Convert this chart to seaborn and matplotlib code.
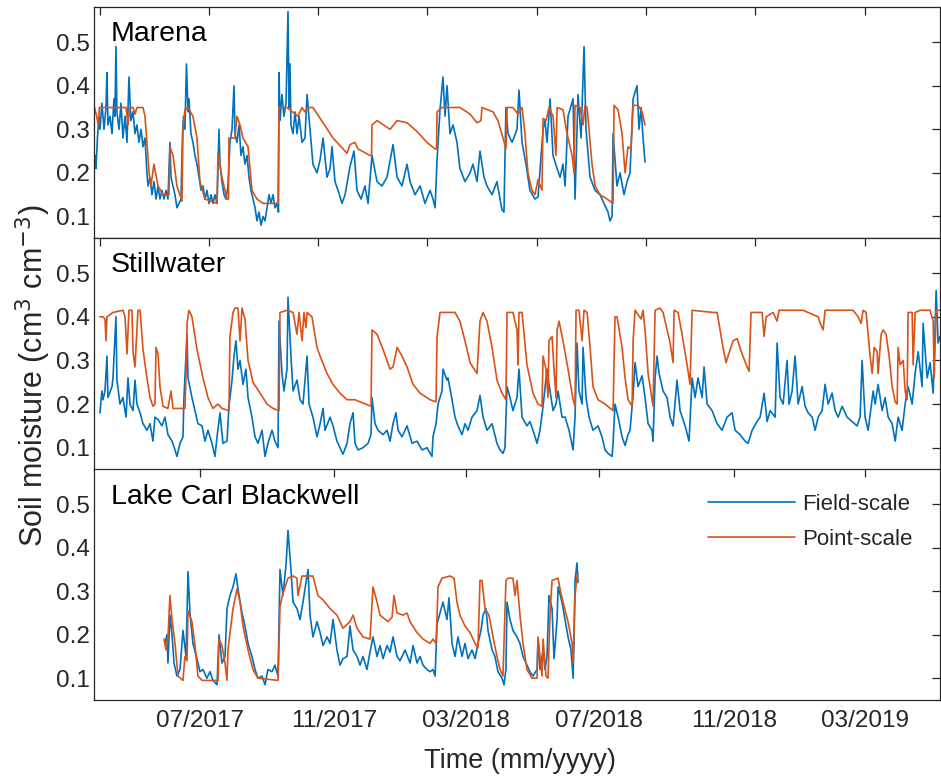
import matplotlib
matplotlib.use("Agg")
import matplotlib.pyplot as plt
import matplotlib.dates as mdates
from matplotlib.lines import Line2D
import pandas as pd
import seaborn as sns

START = pd.Timestamp("2017-03-27")
END_DAY = 772.0

# ---- Marena --------------------------------------------------------------
marena_field_day = [
    0.5, 1.4, 2.7, 4.1, 5.0, 6.8, 8.7, 10.5, 11.4, 12.3, 14.2, 16.0, 17.8, 18.7, 19.6, 20.5,
    22.4, 24.2, 26.0, 27.9, 29.7, 31.5, 33.3, 35.2, 37.0, 38.8, 40.6, 42.5, 44.3, 46.1, 47.9,
    48.9, 50.7, 52.5, 54.3, 56.2, 58.0, 59.8, 61.6, 63.5, 65.3, 67.1, 68.9, 69.9, 71.7, 73.5,
    75.3, 77.2, 79.0, 80.4, 81.3, 82.6, 84.0, 85.4, 86.3, 88.1, 89.9, 91.8, 93.6, 95.4, 97.3,
    99.1, 100.9, 102.7, 104.6, 106.4, 108.2, 110.0, 111.9, 113.7, 114.6, 116.4, 118.3, 120.1,
    121.9, 123.7, 125.6, 127.4, 128.3, 130.1, 132.0, 133.8, 135.6, 137.4, 139.3, 141.1, 142.9,
    144.7, 146.6, 148.4, 150.2, 152.1, 153.9, 155.7, 157.5, 159.4, 161.2, 163.0, 164.8, 166.7,
    168.0, 168.5, 169.4, 171.2, 173.0, 174.9, 176.7, 177.6, 178.5, 179.4, 181.3, 183.1, 184.9,
    186.8, 189.5, 192.2, 194.1, 196.8, 199.5, 203.2, 206.0, 208.7, 212.3, 215.1, 216.9, 219.6,
    222.4, 226.0, 228.8, 233.3, 237.0, 239.7, 243.4, 247.0, 249.8, 253.4, 258.0, 262.5, 267.1,
    272.6, 276.3, 280.8, 285.4, 288.1, 292.7, 297.3, 301.8, 306.4, 309.1, 311.0, 312.8, 315.5,
    318.2, 320.1, 321.9, 324.6, 327.4, 331.0, 333.7, 338.3, 342.9, 345.6, 349.3, 352.0, 355.7,
    358.4, 363.0, 367.5, 370.3, 372.1, 373.9, 375.7, 377.6, 381.3, 385.8, 387.6, 390.4, 394.0,
    397.6, 402.2, 405.0, 409.6, 411.4, 413.2, 416.0, 418.7, 422.4, 425.1, 427.8, 429.7, 432.4,
    437.0, 438.8, 441.5, 444.3, 447.0, 448.8, 452.5, 457.1, 461.6, 465.3, 468.9, 470.7, 472.6,
    473.5, 477.1, 479.9, 483.5, 486.3, 489.0, 491.8, 495.4, 497.2, 499.1, 500.9, 502.7,
]
marena_field_sm = [
    0.24, 0.21, 0.28, 0.33, 0.30, 0.36, 0.30, 0.35, 0.43, 0.31, 0.33, 0.29, 0.37, 0.33, 0.49, 0.34,
    0.30, 0.36, 0.28, 0.33, 0.27, 0.42, 0.32, 0.34, 0.29, 0.31, 0.27, 0.30, 0.26, 0.28, 0.20,
    0.17, 0.19, 0.15, 0.18, 0.14, 0.17, 0.14, 0.16, 0.14, 0.16, 0.14, 0.27, 0.19, 0.17, 0.15,
    0.12, 0.13, 0.14, 0.29, 0.33, 0.30, 0.45, 0.34, 0.37, 0.29, 0.27, 0.24, 0.22, 0.19, 0.16,
    0.17, 0.14, 0.16, 0.13, 0.15, 0.13, 0.15, 0.13, 0.30, 0.22, 0.18, 0.15, 0.14,
    0.17, 0.27, 0.30, 0.40, 0.29, 0.27, 0.31, 0.24, 0.26, 0.22, 0.24, 0.19, 0.16,
    0.14, 0.12, 0.09, 0.11, 0.08, 0.10, 0.09, 0.12, 0.15, 0.13, 0.15, 0.12, 0.13,
    0.11, 0.43, 0.32, 0.38, 0.33, 0.36, 0.57, 0.35, 0.45, 0.31, 0.29, 0.34, 0.29,
    0.33, 0.27, 0.28, 0.38, 0.30, 0.22, 0.20, 0.23, 0.28, 0.19, 0.21, 0.26, 0.18,
    0.16, 0.13, 0.15, 0.215, 0.25, 0.16, 0.14, 0.17, 0.13, 0.24, 0.18, 0.17, 0.19,
    0.265, 0.19, 0.17, 0.22, 0.18, 0.15, 0.17, 0.13, 0.16, 0.14, 0.12, 0.23, 0.345,
    0.42, 0.33, 0.40, 0.29, 0.31, 0.27, 0.21, 0.18, 0.20, 0.22, 0.18, 0.25, 0.19,
    0.17, 0.15, 0.18, 0.14, 0.115, 0.11, 0.35, 0.29, 0.27, 0.30, 0.39, 0.27, 0.22,
    0.16, 0.14, 0.145, 0.30, 0.32, 0.27, 0.37, 0.24, 0.21, 0.19, 0.22, 0.17, 0.33,
    0.37, 0.14, 0.38, 0.28, 0.49, 0.30, 0.19, 0.16, 0.15, 0.13, 0.11, 0.09, 0.10,
    0.29, 0.17, 0.20, 0.15, 0.18, 0.20, 0.37, 0.40, 0.30, 0.35, 0.28, 0.225,
]
marena_point_day = [
    0.0, 2.0, 3.5, 4.4, 26.0, 28.8, 30.6, 32.4, 35.2, 37.0, 38.8, 44.3, 46.1, 47.9, 49.8, 51.6,
    54.3, 58.0, 62.6, 68.0, 68.9, 71.7, 75.3, 79.9, 80.8, 82.6, 85.4, 89.9, 93.6, 96.3, 100.9,
    111.9, 112.8, 116.4, 121.0, 122.4, 122.8, 128.3, 130.1, 132.9, 135.6, 140.2, 143.8, 148.4,
    153.9, 167.6, 168.5, 175.8, 185.8, 189.5, 192.2, 195.0, 199.5, 208.7, 217.8, 230.6, 233.3,
    237.9, 240.6, 251.6, 253.0, 253.4, 258.0, 269.9, 276.3, 285.4, 294.5, 303.6, 311.0, 312.3,
    312.8, 317.3, 333.7, 342.9, 349.3, 352.9, 353.8, 363.9, 368.4, 373.0, 375.7, 376.7, 382.1,
    386.7, 390.4, 393.1, 395.8, 399.5, 402.2, 405.0, 408.6, 409.6, 412.3, 415.0, 418.7, 421.4,
    422.4, 427.8, 431.5, 436.1, 437.9, 438.8, 443.4, 446.1, 447.9, 449.8, 454.3, 457.1, 461.6,
    468.0, 473.5, 474.4, 478.1, 481.7, 484.5, 487.2, 489.9, 491.8, 496.3, 500.0, 502.7,
]
marena_point_sm = [
    0.35, 0.33, 0.31, 0.35, 0.35, 0.35, 0.31, 0.35, 0.35, 0.335, 0.35, 0.35, 0.33, 0.27, 0.20, 0.17,
    0.22, 0.17, 0.15, 0.15, 0.26, 0.24, 0.17, 0.135, 0.30, 0.345, 0.35, 0.33, 0.28, 0.18, 0.14,
    0.13, 0.245, 0.19, 0.14, 0.14, 0.28, 0.28, 0.33, 0.31, 0.28, 0.26, 0.16, 0.14,
    0.13, 0.13, 0.35, 0.35, 0.33, 0.35, 0.34, 0.35, 0.35, 0.315, 0.28, 0.245, 0.265,
    0.27, 0.255, 0.24, 0.24, 0.31, 0.32, 0.30, 0.32, 0.315, 0.295, 0.27, 0.255, 0.255,
    0.34, 0.35, 0.35, 0.335, 0.315, 0.32, 0.35, 0.34, 0.32, 0.28, 0.255, 0.35, 0.35,
    0.335, 0.35, 0.29, 0.20, 0.16, 0.15, 0.185, 0.16, 0.325, 0.32, 0.35, 0.33, 0.24,
    0.35, 0.345, 0.29, 0.24, 0.20, 0.355, 0.35, 0.31, 0.355, 0.35, 0.22, 0.17, 0.15,
    0.14, 0.13, 0.355, 0.345, 0.29, 0.20, 0.26, 0.255, 0.355, 0.355, 0.34, 0.31,
]

# ---- Stillwater ----------------------------------------------------------
stillwater_field_day = [
    5.0, 6.8, 7.8, 9.6, 11.4, 12.3, 16.0, 16.9, 19.6, 20.5, 23.3, 26.0, 28.8, 30.6, 32.4, 35.2,
    37.0, 38.8, 41.6, 44.3, 47.9, 50.7, 53.4, 55.2, 58.0, 61.6, 64.4, 67.1, 70.8, 73.5, 75.3,
    78.1, 80.8, 81.7, 84.5, 85.4, 89.0, 91.8, 94.5, 98.2, 100.9, 103.6, 107.3, 110.0, 111.9,
    114.6, 117.3, 121.0, 122.8, 125.6, 127.4, 129.2, 131.0, 132.9, 135.6, 138.3, 140.2, 143.8,
    146.6, 149.3, 153.0, 155.7, 158.4, 162.1, 164.8, 167.6, 168.5, 171.2, 173.0, 175.8, 176.7,
    179.4, 181.3, 184.9, 187.7, 190.4, 194.1, 195.9, 199.5, 203.2, 206.0, 208.7, 210.5, 215.1,
    217.8, 221.4, 224.2, 226.9, 230.6, 233.3, 236.1, 237.9, 240.6, 245.2, 249.8, 252.5, 253.4,
    256.2, 258.9, 263.5, 267.1, 269.9, 272.6, 275.3, 277.2, 280.8, 285.4, 290.0, 294.5, 299.1,
    303.6, 308.2, 309.1, 311.9, 313.7, 317.3, 318.2, 321.9, 322.8, 326.5, 329.2, 331.9, 335.6,
    338.3, 341.1, 344.7, 349.3, 352.0, 354.8, 358.4, 363.0, 367.5, 370.3, 373.0, 374.8, 376.7,
    379.4, 382.1, 385.8, 387.6, 390.4, 394.9, 397.6, 400.4, 404.1, 406.8, 409.6, 413.2, 415.0,
    418.7, 421.4, 423.3, 426.9, 429.7, 433.3, 437.0, 438.8, 440.6, 442.4, 445.2, 446.1, 448.8,
    451.6, 455.2, 459.8, 463.4, 466.2, 468.9, 472.6, 473.5, 475.3, 478.1, 481.7, 484.5, 487.2,
    489.0, 491.8, 493.6, 496.3, 500.0, 502.7, 505.5, 509.1, 510.0, 511.9, 513.7, 515.5, 519.2,
    522.8, 525.6, 528.3, 531.9, 534.7, 539.3, 542.9, 545.7, 548.4, 551.1, 554.8, 556.6, 559.4,
    563.9, 568.5, 573.0, 577.6, 582.2, 584.9, 589.5, 594.1, 596.8, 600.5, 605.0, 607.8, 611.4,
    614.2, 616.9, 621.5, 623.3, 626.0, 628.8, 632.4, 634.2, 637.0, 639.7, 642.5, 646.1, 648.9,
    651.6, 655.3, 658.0, 660.8, 664.4, 667.1, 669.9, 673.5, 676.3, 679.0, 682.7, 687.2, 691.8,
    696.3, 699.1, 700.9, 703.6, 706.4, 711.0, 712.8, 715.5, 719.2, 721.9, 724.7, 728.3, 731.1,
    733.8, 737.4, 740.2, 742.9, 746.6, 749.3, 752.1, 755.7, 756.6, 760.3, 763.0, 765.8, 768.5,
    770.3, 772.0,
]
stillwater_field_sm = [
    0.18, 0.23, 0.21, 0.23, 0.31, 0.215, 0.24, 0.26, 0.40, 0.255, 0.20, 0.215, 0.17, 0.26, 0.20, 0.185,
    0.255, 0.20, 0.18, 0.155, 0.14, 0.155, 0.115, 0.17, 0.165, 0.15, 0.17, 0.13, 0.115, 0.095, 0.08,
    0.11, 0.125, 0.215, 0.36, 0.26, 0.215, 0.185, 0.155, 0.15, 0.115, 0.14, 0.11, 0.08, 0.125,
    0.18, 0.11, 0.115, 0.195, 0.255, 0.31, 0.345, 0.28, 0.30, 0.245, 0.28, 0.215, 0.17,
    0.125, 0.11, 0.14, 0.08, 0.11, 0.14, 0.115, 0.10, 0.39, 0.27, 0.23, 0.28, 0.445,
    0.31, 0.23, 0.255, 0.21, 0.20, 0.31, 0.20, 0.17, 0.125, 0.155, 0.19, 0.14, 0.17,
    0.15, 0.115, 0.10, 0.085, 0.11, 0.155, 0.18, 0.11, 0.095, 0.10, 0.11, 0.13, 0.215,
    0.155, 0.14, 0.13, 0.14, 0.115, 0.155, 0.18, 0.14, 0.125, 0.15, 0.11, 0.115, 0.095,
    0.10, 0.08, 0.125, 0.155, 0.20, 0.23, 0.28, 0.255, 0.26, 0.21, 0.17, 0.15, 0.13,
    0.155, 0.14, 0.17, 0.185, 0.22, 0.17, 0.14, 0.155, 0.11, 0.095, 0.087, 0.10, 0.24,
    0.215, 0.185, 0.215, 0.28, 0.17, 0.15, 0.16, 0.14, 0.11, 0.14, 0.195, 0.28, 0.245,
    0.185, 0.20, 0.23, 0.17, 0.17, 0.14, 0.095, 0.17, 0.34, 0.23, 0.20, 0.33, 0.215,
    0.17, 0.14, 0.15, 0.125, 0.095, 0.087, 0.08, 0.11, 0.20, 0.17, 0.125, 0.105, 0.13,
    0.14, 0.22, 0.295, 0.24, 0.265, 0.215, 0.155, 0.14, 0.115, 0.26, 0.31, 0.27, 0.23,
    0.215, 0.17, 0.15, 0.255, 0.185, 0.15, 0.115, 0.26, 0.215, 0.26, 0.215, 0.285, 0.20,
    0.185, 0.155, 0.14, 0.17, 0.18, 0.14, 0.13, 0.115, 0.11, 0.14, 0.16, 0.17, 0.225,
    0.16, 0.185, 0.17, 0.34, 0.215, 0.20, 0.30, 0.20, 0.23, 0.31, 0.20, 0.24, 0.195,
    0.18, 0.17, 0.14, 0.17, 0.185, 0.245, 0.20, 0.225, 0.185, 0.17, 0.195, 0.17, 0.16,
    0.15, 0.17, 0.30, 0.17, 0.14, 0.23, 0.20, 0.245, 0.185, 0.215, 0.17, 0.155, 0.115,
    0.17, 0.14, 0.20, 0.24, 0.20, 0.27, 0.32, 0.24, 0.385, 0.26, 0.295, 0.225, 0.46,
    0.34, 0.355,
]
stillwater_point_day = [
    5.0, 7.8, 9.6, 10.5, 11.4, 16.9, 26.0, 27.9, 29.7, 31.5, 34.2, 35.2, 37.0, 38.8, 39.7, 41.6,
    44.3, 47.9, 50.7, 53.4, 55.2, 56.2, 58.0, 59.8, 62.6, 67.1, 69.9, 71.7, 82.6, 84.0, 84.5,
    86.3, 89.0, 93.6, 99.1, 103.6, 108.2, 112.8, 116.4, 122.8, 123.7, 126.5, 128.3, 131.0,
    132.9, 134.7, 137.4, 140.2, 144.7, 151.2, 157.5, 163.0, 168.5, 169.4, 175.8, 181.3, 184.9,
    186.8, 189.5, 191.3, 193.1, 194.1, 198.6, 203.2, 206.0, 212.3, 217.8, 224.2, 230.6, 237.9,
    242.5, 252.5, 253.4, 258.0, 263.5, 269.9, 272.6, 276.3, 280.8, 285.4, 290.9, 297.3, 306.4,
    311.9, 312.8, 315.5, 329.2, 333.7, 338.3, 342.9, 349.3, 352.0, 354.8, 358.4, 363.0, 367.5,
    372.1, 375.7, 376.7, 382.1, 385.8, 386.7, 387.6, 390.4, 394.9, 400.4, 405.0, 408.6, 409.6,
    412.3, 414.1, 415.0, 417.8, 419.6, 421.4, 422.4, 424.2, 427.8, 432.4, 437.0, 438.8, 439.7,
    442.4, 445.2, 447.0, 449.8, 452.5, 455.2, 459.8, 466.2, 473.5, 475.3, 477.1, 481.7, 484.5,
    487.2, 490.9, 491.8, 493.6, 499.1, 500.9, 502.7, 505.5, 510.0, 511.9, 516.4, 519.2, 522.8,
    525.6, 528.3, 529.2, 532.9, 536.5, 541.1, 543.8, 545.7, 564.8, 568.5, 571.2, 573.9, 576.7,
    578.5, 583.1, 586.8, 591.3, 595.9, 597.7, 599.5, 609.6, 611.4, 613.3, 619.6, 623.3, 625.1,
    647.0, 660.8, 662.6, 665.3, 667.1, 692.7, 697.3, 700.0, 701.8, 704.6, 706.4, 708.2, 710.1,
    711.9, 714.6, 715.5, 718.3, 720.1, 722.8, 725.6, 728.3, 731.1, 732.9, 733.8, 735.6, 738.4,
    740.2, 742.0, 742.9, 746.6, 747.5, 749.3, 753.9, 763.0, 765.8, 766.7, 768.5, 772.0,
]
stillwater_point_sm = [
    0.40, 0.40, 0.395, 0.345, 0.40, 0.41, 0.415, 0.40, 0.315, 0.415, 0.415, 0.32, 0.285, 0.37, 0.415, 0.415,
    0.325, 0.26, 0.215, 0.195, 0.20, 0.33, 0.315, 0.24, 0.195, 0.19, 0.23, 0.19, 0.19, 0.30, 0.385,
    0.415, 0.40, 0.325, 0.26, 0.215, 0.19, 0.20, 0.19, 0.185, 0.355, 0.41, 0.42, 0.42,
    0.345, 0.42, 0.395, 0.30, 0.25, 0.225, 0.20, 0.19, 0.185, 0.41, 0.415, 0.41, 0.36,
    0.41, 0.345, 0.41, 0.375, 0.41, 0.40, 0.33, 0.31, 0.27, 0.245, 0.225, 0.21, 0.21,
    0.205, 0.195, 0.37, 0.36, 0.325, 0.28, 0.285, 0.33, 0.31, 0.285, 0.245, 0.225, 0.21,
    0.205, 0.355, 0.41, 0.41, 0.39, 0.345, 0.295, 0.27, 0.39, 0.41, 0.39, 0.33, 0.255,
    0.225, 0.21, 0.41, 0.41, 0.37, 0.29, 0.41, 0.41, 0.29, 0.225, 0.20, 0.195, 0.31,
    0.28, 0.215, 0.345, 0.355, 0.28, 0.215, 0.37, 0.39, 0.345, 0.28, 0.21, 0.195, 0.415,
    0.415, 0.345, 0.415, 0.41, 0.33, 0.24, 0.21, 0.20, 0.185, 0.40, 0.40, 0.33, 0.26,
    0.21, 0.195, 0.345, 0.415, 0.395, 0.415, 0.37, 0.27, 0.195, 0.415, 0.42, 0.41, 0.37,
    0.34, 0.295, 0.415, 0.41, 0.36, 0.29, 0.245, 0.415, 0.41, 0.41, 0.37, 0.33, 0.295,
    0.31, 0.345, 0.35, 0.315, 0.285, 0.275, 0.41, 0.41, 0.355, 0.40, 0.41, 0.39, 0.415,
    0.415, 0.40, 0.385, 0.37, 0.415, 0.415, 0.40, 0.385, 0.415, 0.41, 0.36, 0.31, 0.27,
    0.33, 0.32, 0.27, 0.36, 0.37, 0.36, 0.31, 0.24, 0.205, 0.20, 0.33, 0.29, 0.30,
    0.23, 0.21, 0.41, 0.41, 0.29, 0.41, 0.415, 0.415, 0.39, 0.26, 0.415, 0.415,
]

# ---- Lake Carl Blackwell -------------------------------------------------
lcb_field_day = [
    64.4, 66.2, 67.1, 68.9, 70.8, 72.6, 75.3, 78.1, 80.8, 83.6, 85.4, 87.2, 89.9, 93.6, 96.3,
    99.1, 102.7, 105.5, 108.2, 111.9, 113.7, 116.4, 119.2, 121.0, 123.7, 126.5, 129.2, 131.0,
    134.7, 137.4, 140.2, 143.8, 146.6, 149.3, 153.0, 155.7, 158.4, 162.1, 164.8, 167.6, 169.4,
    172.1, 174.9, 176.7, 179.4, 181.3, 184.9, 187.7, 190.4, 195.0, 196.8, 199.5, 203.2, 206.0,
    208.7, 212.3, 215.1, 217.8, 221.4, 224.2, 226.9, 230.6, 233.3, 236.1, 239.7, 242.5, 245.2,
    248.8, 251.6, 254.3, 258.0, 260.7, 263.5, 267.1, 269.9, 272.6, 276.3, 279.0, 283.6, 288.1,
    290.9, 294.5, 297.3, 300.0, 303.6, 306.4, 309.1, 311.0, 312.8, 315.5, 318.2, 321.9, 323.7,
    326.5, 329.2, 331.9, 335.6, 338.3, 341.1, 344.7, 347.5, 350.2, 352.9, 354.8, 357.5, 359.3,
    363.0, 365.7, 368.4, 372.1, 373.9, 375.7, 376.7, 379.4, 382.1, 385.8, 388.5, 391.3, 394.9,
    397.6, 400.4, 404.1, 405.0, 406.8, 409.6, 411.4, 413.2, 415.0, 417.8, 419.6, 422.4, 423.3,
    426.9, 429.7, 432.4, 435.1, 437.0, 437.9, 438.8, 440.6, 441.5,
]
lcb_field_sm = [
    0.18, 0.20, 0.135, 0.245, 0.20, 0.135, 0.105, 0.12, 0.21, 0.15, 0.345, 0.25, 0.18, 0.145, 0.115,
    0.12, 0.10, 0.115, 0.095, 0.085, 0.20, 0.135, 0.15, 0.26, 0.29, 0.31, 0.34, 0.305,
    0.25, 0.22, 0.18, 0.15, 0.12, 0.10, 0.105, 0.085, 0.12, 0.115, 0.13, 0.105, 0.35,
    0.29, 0.36, 0.44, 0.35, 0.275, 0.26, 0.235, 0.275, 0.35, 0.245, 0.195, 0.23, 0.205,
    0.175, 0.195, 0.18, 0.235, 0.165, 0.13, 0.145, 0.15, 0.22, 0.165, 0.15, 0.13, 0.15,
    0.12, 0.16, 0.195, 0.15, 0.175, 0.145, 0.175, 0.16, 0.195, 0.15, 0.14, 0.165, 0.135,
    0.175, 0.135, 0.15, 0.13, 0.12, 0.115, 0.12, 0.105, 0.225, 0.25, 0.275, 0.235, 0.285,
    0.18, 0.15, 0.195, 0.15, 0.18, 0.145, 0.165, 0.145, 0.18, 0.21, 0.245, 0.26, 0.21,
    0.165, 0.15, 0.115, 0.10, 0.085, 0.12, 0.275, 0.235, 0.21, 0.195, 0.18, 0.15, 0.13,
    0.115, 0.105, 0.12, 0.19, 0.12, 0.165, 0.12, 0.15, 0.29, 0.26, 0.145, 0.235, 0.31,
    0.275, 0.235, 0.195, 0.165, 0.10, 0.195, 0.325, 0.365, 0.32,
]
lcb_point_day = [
    63.5, 65.3, 67.1, 68.9, 70.8, 73.5, 76.3, 80.8, 82.6, 84.5, 85.4, 89.0, 91.8, 94.5, 98.2,
    112.8, 113.7, 116.4, 119.2, 121.0, 121.9, 126.5, 130.1, 132.9, 135.6, 140.2, 144.7, 149.3,
    167.6, 169.4, 172.1, 176.7, 181.3, 184.9, 185.8, 189.5, 199.5, 204.1, 208.7, 215.1, 221.4,
    226.9, 233.3, 236.1, 239.7, 245.2, 251.6, 254.3, 258.0, 260.7, 268.0, 271.7, 273.5, 276.3,
    281.7, 285.4, 288.1, 294.5, 300.0, 306.4, 309.1, 311.9, 313.7, 317.3, 324.6, 328.3, 331.0,
    333.7, 338.3, 342.9, 347.5, 350.2, 352.0, 353.8, 356.6, 360.2, 363.9, 367.5, 370.3, 373.0,
    375.7, 377.6, 382.1, 384.0, 385.8, 388.5, 391.3, 394.9, 399.5, 404.1, 405.0, 406.8, 408.6,
    409.6, 412.3, 414.1, 416.0, 417.8, 423.3, 425.1, 427.8, 432.4, 436.1, 437.0, 438.8, 440.6,
    441.5,
]
lcb_point_sm = [
    0.19, 0.165, 0.195, 0.29, 0.235, 0.18, 0.105, 0.095, 0.15, 0.14, 0.255, 0.23, 0.175, 0.105, 0.095,
    0.095, 0.19, 0.175, 0.135, 0.095, 0.165, 0.26, 0.305, 0.275, 0.22, 0.165, 0.12, 0.10,
    0.095, 0.265, 0.295, 0.33, 0.335, 0.33, 0.29, 0.335, 0.335, 0.29, 0.28, 0.26, 0.245,
    0.215, 0.23, 0.245, 0.215, 0.195, 0.19, 0.31, 0.275, 0.245, 0.23, 0.24, 0.29, 0.25,
    0.245, 0.25, 0.23, 0.205, 0.19, 0.18, 0.19, 0.18, 0.31, 0.33, 0.335, 0.33, 0.275,
    0.245, 0.22, 0.205, 0.18, 0.17, 0.325, 0.325, 0.26, 0.245, 0.195, 0.15, 0.12, 0.105,
    0.325, 0.33, 0.33, 0.29, 0.325, 0.245, 0.18, 0.12, 0.10, 0.10, 0.195, 0.15, 0.105,
    0.19, 0.105, 0.10, 0.25, 0.325, 0.33, 0.305, 0.275, 0.23, 0.18, 0.135, 0.29, 0.335,
    0.34,
]

site_names = ["Marena", "Stillwater", "Lake Carl Blackwell"]
scale_names = ["Field-scale", "Point-scale"]
scale_colors = {"Field-scale": "#0072BD", "Point-scale": "#D95319"}
month_ticks = ["2017-07-01", "2017-11-01", "2018-03-01", "2018-07-01", "2018-11-01", "2019-03-01"]
y_ticks = [0.1, 0.2, 0.3, 0.4, 0.5]


def site_frame(f_day, f_sm, p_day, p_sm):
    parts = []
    for name, d, v in ((scale_names[0], f_day, f_sm), (scale_names[1], p_day, p_sm)):
        parts.append(pd.DataFrame({
            "date": START + pd.to_timedelta(d, unit="D"),
            "sm": v,
            "scale": name,
        }))
    return pd.concat(parts, ignore_index=True)


frames = [
    site_frame(marena_field_day, marena_field_sm, marena_point_day, marena_point_sm),
    site_frame(stillwater_field_day, stillwater_field_sm, stillwater_point_day, stillwater_point_sm),
    site_frame(lcb_field_day, lcb_field_sm, lcb_point_day, lcb_point_sm),
]

sns.set_style("white")
plt.rcParams["font.family"] = ["Liberation Sans", "DejaVu Sans"]
plt.rcParams["axes.edgecolor"] = "#262626"

fig = plt.figure(figsize=(9.41, 7.82), dpi=100)
left, width = 0.1004, 0.8985
boxes = [(0.6953, 0.2954), (0.3996, 0.2957), (0.1049, 0.2948)]
axes = [fig.add_axes([left, b, width, h]) for b, h in boxes]

x0 = START
x1 = START + pd.Timedelta(days=END_DAY)
grid_ticks = [START + pd.Timedelta(days=4.6 + 99.8 * k) for k in range(8)]

for i, (ax, df, site) in enumerate(zip(axes, frames, site_names)):
    sns.lineplot(data=df, x="date", y="sm", hue="scale", hue_order=scale_names,
                 palette=scale_colors, estimator=None, sort=False, linewidth=1.2,
                 legend=False, ax=ax)
    ax.set_xlim(x0, x1)
    ax.set_ylim(0.05, 0.58)
    ax.set_yticks(y_ticks)
    ax.set_yticklabels([f"{t:.1f}" for t in y_ticks])
    ax.set_xlabel("")
    ax.set_ylabel("")
    for s in ax.spines.values():
        s.set_visible(True)
        s.set_linewidth(0.9)
        s.set_color("#262626")
    ax.tick_params(axis="both", which="major", direction="in", top=True, right=True,
                   length=6, width=0.9, color="#262626", labelsize=17.5,
                   labelcolor="#262626", pad=3.5)
    if i < 2:
        ax.set_xticks(grid_ticks)
        ax.set_xticklabels([])
    else:
        ax.set_xticks(pd.to_datetime(month_ticks))
        ax.xaxis.set_major_formatter(mdates.DateFormatter("%m/%Y"))
        ax.tick_params(axis="x", pad=7)
    ax.text(0.0195, 0.852, site, transform=ax.transAxes, fontsize=20.5,
            ha="left", va="baseline", color="black")

handles = [Line2D([], [], color=scale_colors[s], linewidth=1.2) for s in scale_names]
axes[2].legend(handles, scale_names, loc="center left", bbox_to_anchor=(0.7256, 0.772),
               frameon=False, fontsize=16, handlelength=3.9, handletextpad=0.35,
               labelspacing=0.62, borderpad=0, borderaxespad=0)

fig.text(0.035, 0.52, "Soil moisture (cm$^{3}$ cm$^{-3}$)", rotation=90,
         ha="center", va="center", fontsize=22, color="#262626")
fig.text(0.5526, 0.027, "Time (mm/yyyy)", ha="center", va="center",
         fontsize=19.5, color="#262626")

fig.savefig("out.png", dpi=100)
